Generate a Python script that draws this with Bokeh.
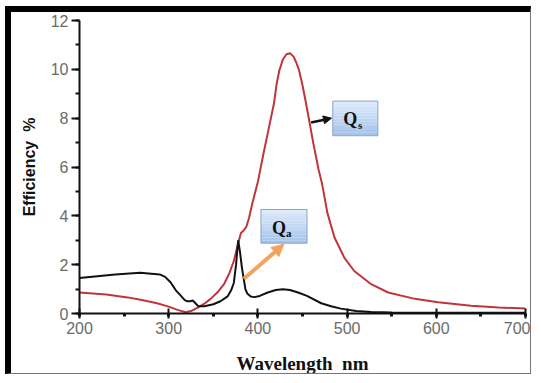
from bokeh.plotting import figure
from bokeh.embed import file_html
from bokeh.resources import INLINE
from bokeh.models import SingleIntervalTicker, Range1d, Arrow, NormalHead
from bokeh.core.properties import value

# Qs (scattering efficiency, red)
qs_wavelength = [200, 230, 254, 270, 287, 300, 310, 319, 325, 332, 340, 347, 355, 362,
                 368, 373, 378, 381, 384, 387, 390, 394, 400, 406, 412, 418, 421, 424,
                 428, 432, 436, 440, 443, 446, 450, 454, 458, 462, 468, 472, 478, 486,
                 497, 508, 527, 546, 576, 602, 639, 670, 700]
qs_eff = [0.86, 0.78, 0.66, 0.55, 0.42, 0.28, 0.15, 0.05, 0.10, 0.23, 0.40, 0.60, 0.88, 1.20,
          1.65, 2.15, 2.90, 3.30, 3.40, 3.55, 3.90, 4.55, 5.40, 6.50, 7.55, 8.60, 9.40, 9.95,
          10.40, 10.62, 10.66, 10.52, 10.28, 9.98, 9.35, 8.60, 7.80, 7.00, 5.90, 5.30, 4.10, 3.10,
          2.28, 1.74, 1.20, 0.86, 0.60, 0.46, 0.32, 0.25, 0.20]

# Qa (absorption efficiency, black)
qa_wavelength = [200, 220, 240, 268, 290, 296, 302, 308, 313, 318, 321, 324, 327, 330, 333,
                 340, 350, 358, 366, 370, 373, 375.5, 377.9, 380, 382, 384, 386, 388, 392,
                 396, 402, 411, 420, 428, 436, 445, 455, 471, 482, 493, 510, 527, 550, 600,
                 650, 700]
qa_eff = [1.45, 1.53, 1.60, 1.67, 1.60, 1.50, 1.28, 0.95, 0.75, 0.55, 0.50, 0.50, 0.53, 0.42, 0.30,
          0.30, 0.38, 0.50, 0.70, 0.95, 1.25, 2.00, 3.00, 2.50, 1.90, 1.45, 1.00, 0.82, 0.70,
          0.67, 0.72, 0.86, 0.96, 0.99, 0.96, 0.86, 0.72, 0.42, 0.30, 0.20, 0.10, 0.06, 0.04, 0.03,
          0.03, 0.03]

x_ticks = [200, 300, 400, 500, 600, 700]
y_ticks = [0, 2, 4, 6, 8, 10, 12]

p = figure(width=526, height=368, output_backend="svg", toolbar_location=None,
           x_range=Range1d(200, 700), y_range=Range1d(0, 12),
           min_border_left=68, min_border_right=12, min_border_top=8, min_border_bottom=67)
p.styles = {"margin-left": "5px", "margin-top": "6px",
            "border-left": "6px solid #000", "border-top": "6px solid #000",
            "border-right": "1px solid #777", "border-bottom": "1px solid #777"}
p.outline_line_color = None
p.xgrid.grid_line_color = None
p.ygrid.grid_line_color = None
p.background_fill_color = "white"
p.border_fill_color = "white"

p.line(qs_wavelength, qs_eff, line_color="#c0353c", line_width=2)
p.line(qa_wavelength, qa_eff, line_color="#111111", line_width=2)

p.xaxis.ticker = SingleIntervalTicker(interval=100, num_minor_ticks=2)
p.yaxis.ticker = SingleIntervalTicker(interval=2, num_minor_ticks=2)
for ax in (p.xaxis[0], p.yaxis[0]):
    ax.axis_line_color = "#111111"
    ax.axis_line_width = 2
    ax.major_tick_line_color = "#111111"
    ax.major_tick_line_width = 2
    ax.minor_tick_line_color = "#111111"
    ax.major_label_text_font = "Liberation Sans"
    ax.major_label_text_font_size = "16px"
    ax.major_label_text_color = "#6a6a6a"
    ax.axis_label_text_color = "#111111"
    ax.axis_label_text_font_style = "bold"

p.xaxis.major_tick_in = 5
p.xaxis.major_tick_out = 5
p.xaxis.minor_tick_in = 0
p.xaxis.minor_tick_out = 3
p.xaxis.minor_tick_line_width = 3
p.xaxis.major_label_standoff = 3
p.xaxis.axis_label = "Wavelength \u00a0nm"
p.xaxis.axis_label_text_font = "Liberation Serif"
p.xaxis.axis_label_text_font_size = "19px"
p.xaxis.axis_label_standoff = 16

p.yaxis.major_tick_in = 0
p.yaxis.major_tick_out = 8
p.yaxis.minor_tick_in = 0
p.yaxis.minor_tick_out = 4
p.yaxis.minor_tick_line_width = 2
p.yaxis.major_label_standoff = 3
p.yaxis.axis_label = "Efficiency \u00a0%"
p.yaxis.axis_label_text_font = "Liberation Sans"
p.yaxis.axis_label_text_font_size = "16px"
p.yaxis.axis_label_standoff = 10


def gradient_box(x0, x1, y0, y1, n=12):
    top_c = (0xdd, 0xea, 0xfa)
    bot_c = (0xa6, 0xc3, 0xec)
    lefts, rights, tops, bottoms, colors = [], [], [], [], []
    for i in range(n):
        t = i / (n - 1)
        c = tuple(int(round(top_c[k] + (bot_c[k] - top_c[k]) * t)) for k in range(3))
        tops.append(y1 - (y1 - y0) * i / n)
        bottoms.append(y1 - (y1 - y0) * (i + 1) / n)
        lefts.append(x0)
        rights.append(x1)
        colors.append("#%02x%02x%02x" % c)
    p.quad(left=lefts, right=rights, top=tops, bottom=bottoms, fill_color=colors,
           line_color=None)
    p.quad(left=[x0], right=[x1], top=[y1], bottom=[y0], fill_color=None,
           line_color="#8ea6c6", line_width=1)


# Qs label box and arrow
gradient_box(483.9, 534.5, 7.28, 8.70)
p.text(x=[503.4], y=[7.95], text=["Q"], text_font=value("Liberation Serif"),
       text_font_style="bold", text_font_size="18px", text_align="center",
       text_baseline="middle", text_color="#111111")
p.text(x=[514.5], y=[7.70], text=["s"], text_font=value("Liberation Serif"),
       text_font_style="bold", text_font_size="11px", text_align="center",
       text_baseline="middle", text_color="#111111")
p.add_layout(Arrow(x_start=459.6, y_start=7.82, x_end=482.5, y_end=8.0,
                   line_color="#111111", line_width=2.5,
                   end=NormalHead(size=8, fill_color="#111111", line_color="#111111")))

# Qa label box and arrow
gradient_box(403.4, 455.1, 2.88, 4.26)
p.text(x=[423.6], y=[3.52], text=["Q"], text_font=value("Liberation Serif"),
       text_font_style="bold", text_font_size="18px", text_align="center",
       text_baseline="middle", text_color="#111111")
p.text(x=[434.6], y=[3.30], text=["a"], text_font=value("Liberation Serif"),
       text_font_style="bold", text_font_size="11px", text_align="center",
       text_baseline="middle", text_color="#111111")
p.add_layout(Arrow(x_start=384.3, y_start=1.42, x_end=429.2, y_end=2.84,
                   line_color="#f2a45e", line_width=4,
                   end=NormalHead(size=12, fill_color="#f2a45e", line_color="#f2a45e")))

open("out.html", "w").write(file_html(p, INLINE))
